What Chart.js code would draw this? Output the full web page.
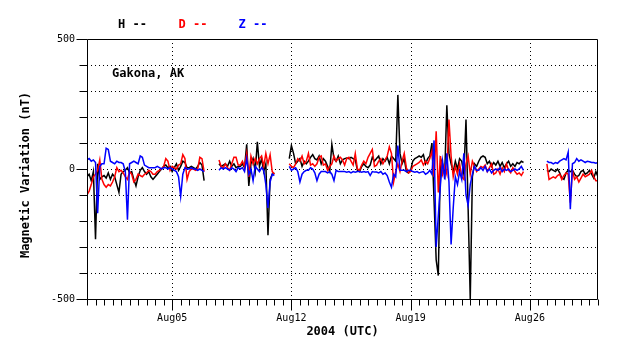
<!DOCTYPE html>
<html><head><meta charset="utf-8">
<script src="https://cdn.jsdelivr.net/npm/chart.js@4"></script>
<style>html,body{margin:0;padding:0;background:#fff}#wrap{width:638px;height:359px}</style>
</head><body><div id="wrap"><canvas id="c" width="638" height="359"></canvas></div>
<script>
// ---- data (nT), sampled every 3 hours from Jul 31 00:00 UTC (day 0) to Aug 30 00:00 (day 30) ----
const startDay = 0;
const stepDay = 0.125;
const seriesNames = ['H', 'D', 'Z'];
const seriesColors = ['#000000', '#ff0000', '#0000ff'];
const tickDays = [5, 12, 19, 26];
const tickLabels = ['Aug05', 'Aug12', 'Aug19', 'Aug26'];
const yLabelValues = [-500, 0, 500];
const stationName = 'Gakona, AK';
const N = null;

const H = [
 -30,-20,-45,-10,-270,20,-40,-30,
 -25,-35,-15,-40,-20,-30,-60,-90,
 -20,-10,-5,5,-15,-10,-40,-65,
 -30,-5,5,-10,-20,-10,-30,-40,
 -30,-20,-10,0,10,15,5,10,
 -10,5,20,-5,10,30,25,5,
 5,10,5,0,10,25,15,-45,
 N,N,N,N,N,N,20,10,
 15,20,10,30,10,20,5,10,
 10,20,5,95,-65,20,40,-10,
 105,10,40,-10,20,-255,-40,-20,
 -15,N,N,N,N,N,N,40,
 90,60,20,30,40,10,30,20,
 30,45,55,40,35,50,20,40,
 30,10,-10,95,40,30,50,20,
 35,40,42,40,45,40,35,-5,
 -10,10,20,10,5,15,45,30,
 40,50,20,40,30,45,20,50,
 40,30,285,60,20,40,-10,-15,
 -5,30,40,45,50,45,55,20,
 40,50,100,-120,-350,-410,40,20,
 -20,245,60,20,-10,30,0,40,
 30,-20,190,-150,-500,-30,20,10,
 30,45,50,45,20,30,10,25,
 15,30,10,25,5,20,30,10,
 20,10,25,20,30,25,N,N,
 N,N,N,N,N,N,N,N,
 -5,-10,0,-5,-10,0,-15,-35,
 -40,-15,-5,-10,-5,-20,-30,-25,
 -10,-5,-20,-15,-5,-20,-35,-10,
 -30
];
const D = [
 -100,-85,-60,-30,-20,-5,35,-40,
 -60,-70,-60,-65,-50,-30,5,-10,
 -5,-15,-30,-40,-10,-20,-50,-40,
 -20,-25,-30,-20,-15,-5,-10,-20,
 -20,-10,-5,0,10,40,30,-5,
 10,5,0,15,20,55,40,-40,
 -10,0,0,-5,0,45,40,-10,
 N,N,N,N,N,N,35,10,
 5,20,5,-5,20,45,45,15,
 15,30,10,60,-30,50,20,40,
 20,40,50,10,60,20,55,-10,
 -20,N,N,N,N,N,N,20,
 10,5,20,40,30,50,20,30,
 60,15,20,10,20,45,50,15,
 20,-5,10,20,50,30,40,45,
 35,15,40,45,30,15,60,0,
 -5,15,30,20,45,60,75,10,
 15,30,40,20,35,50,85,60,
 -50,-10,20,-10,30,60,5,-15,
 -10,10,15,20,25,35,15,30,
 20,40,70,-30,145,-90,50,-20,
 10,-20,190,50,-30,10,-20,20,
 -30,-40,20,50,-20,30,10,-10,
 0,10,5,15,-10,5,20,-20,
 -15,0,-20,5,-10,20,-5,-15,
 5,-10,-20,-15,-25,-10,N,N,
 N,N,N,N,N,N,N,N,
 20,-40,-35,-30,-35,-25,-20,-40,
 -25,-15,-20,-130,-5,-40,-30,-50,
 -35,-20,-30,-25,-20,-5,-30,-45,
 -45
];
const Z = [
 35,40,30,35,25,-170,10,20,
 20,80,75,30,25,20,30,25,
 25,20,-10,-195,20,25,30,25,
 20,50,45,15,10,5,5,5,
 5,10,5,0,5,5,0,5,
 0,-5,-10,-30,-105,-20,5,0,
 0,5,0,0,-5,0,-5,-10,
 N,N,N,N,N,N,-5,5,
 0,5,0,-5,5,0,-10,5,
 0,5,-10,40,-20,0,-45,10,
 0,-10,5,-5,-60,-150,-50,-20,
 -25,N,N,N,N,N,N,10,
 -5,0,5,-10,-50,-20,-10,-5,
 -5,5,0,-15,-45,-20,-10,-10,
 -10,-15,-10,-20,-45,-5,-10,-10,
 -10,-10,-12,-10,-15,-10,-12,-10,
 -10,-12,-10,-12,-10,-25,-10,-12,
 -12,-15,-10,-20,-15,-25,-50,-70,
 -20,-30,90,-5,-5,-5,-10,-5,
 -5,-10,-12,-10,-15,-12,-10,-20,
 -15,-5,-20,110,-300,-180,-60,30,
 -40,60,-50,-290,-150,-30,-60,-10,
 -40,60,-100,-140,-60,-20,10,-5,
 -5,5,-5,10,-10,0,-15,-5,
 0,-5,5,-10,0,-5,0,-10,
 -5,0,-5,0,10,-5,N,N,
 N,N,N,N,N,N,N,N,
 30,25,25,20,25,22,30,35,
 40,35,65,-155,20,25,40,30,
 35,30,25,30,28,25,25,22,
 25
];

const toPts = arr => arr.map((v, i) => ({ x: startDay + i * stepDay, y: v }));
const MONO = '"DejaVu Sans Mono", "Liberation Mono", monospace';

const halfDayTicks = [];
for (let i = 0; i <= 60; i++) halfDayTicks.push(i * 0.5);
const yTicks = [];
for (let v = -500; v <= 500; v += 100) yTicks.push(v);

const decor = {
  id: 'decor',
  beforeDatasetsDraw(chart) {
    const { ctx, chartArea: a, scales: { x, y } } = chart;
    ctx.save();
    ctx.strokeStyle = '#000';
    ctx.lineWidth = 1;
    ctx.setLineDash([1, 3]);
    ctx.beginPath();
    yTicks.forEach(v => {
      if (v <= y.min || v >= y.max) return;
      const py = Math.round(y.getPixelForValue(v)) + 0.5;
      ctx.moveTo(a.left, py); ctx.lineTo(a.right, py);
    });
    tickDays.forEach(d => {
      const px = Math.round(x.getPixelForValue(d)) + 0.5;
      ctx.moveTo(px, a.top); ctx.lineTo(px, a.bottom);
    });
    ctx.stroke();
    ctx.restore();
  },
  afterDraw(chart) {
    const { ctx, chartArea: a, scales: { x, y } } = chart;
    ctx.save();
    ctx.strokeStyle = '#000';
    ctx.lineWidth = 1;
    ctx.setLineDash([]);
    const L = Math.round(a.left) + 0.5, R = Math.round(a.right) - 0.5;
    const T = Math.round(a.top) + 0.5, B = Math.round(a.bottom) + 0.5;
    ctx.beginPath();
    ctx.moveTo(L, T); ctx.lineTo(R, T); ctx.lineTo(R, B);
    ctx.moveTo(L, T); ctx.lineTo(L, B);
    ctx.moveTo(L, B); ctx.lineTo(R, B);
    halfDayTicks.forEach(d => {
      const px = Math.round(x.getPixelForValue(d)) + 0.5;
      const len = tickDays.includes(d) ? 11 : 6;
      ctx.moveTo(px, B); ctx.lineTo(px, B + len);
    });
    yTicks.forEach(v => {
      const py = Math.round(y.getPixelForValue(v)) + 0.5;
      const len = yLabelValues.includes(v) ? 11 : 8;
      ctx.moveTo(L - len, py); ctx.lineTo(L, py);
    });
    ctx.stroke();

    ctx.font = 'bold 12px ' + MONO;
    ctx.textBaseline = 'alphabetic';
    ctx.textAlign = 'left';
    const legX = [118, 178.5, 238.5];
    seriesNames.forEach((n, i) => {
      ctx.fillStyle = seriesColors[i];
      ctx.fillText(n + ' --', legX[i], 28);
    });
    ctx.fillStyle = '#000';
    ctx.fillText(stationName, 112, 76.5);
    ctx.textAlign = 'center';
    ctx.textBaseline = 'middle';
    ctx.fillText('2004 (UTC)', (a.left + a.right) / 2, 332);
    ctx.translate(26, 175);
    ctx.rotate(-Math.PI / 2);
    ctx.fillText('Magnetic Variation (nT)', 0, 0);
    ctx.restore();
  }
};

new Chart(document.getElementById('c'), {
  type: 'line',
  data: {
    datasets: [
      { label: 'H', data: toPts(H), borderColor: seriesColors[0], order: 2 },
      { label: 'D', data: toPts(D), borderColor: seriesColors[1], order: 1 },
      { label: 'Z', data: toPts(Z), borderColor: seriesColors[2], order: 0 }
    ].map(ds => Object.assign(ds, { borderWidth: 1.5, pointRadius: 0, stepped: false, spanGaps: false, fill: false, tension: 0 }))
  },
  options: {
    responsive: false,
    animation: false,
    devicePixelRatio: 1,
    layout: { padding: { top: 39, right: 40, left: 0, bottom: 0 } },
    plugins: { legend: { display: false }, tooltip: { enabled: false }, title: { display: false } },
    scales: {
      x: {
        type: 'linear', min: 0, max: 30,
        afterBuildTicks(s) { s.ticks = tickDays.map(v => ({ value: v })); },
        afterFit(s) { s.height = 60; },
        ticks: {
          autoSkip: false, maxRotation: 0, minRotation: 0, padding: 7, color: '#000',
          font: { family: MONO, size: 10 },
          callback(v) { const i = tickDays.indexOf(v); return i >= 0 ? tickLabels[i] : ''; }
        },
        grid: { display: true, drawOnChartArea: false, drawTicks: true, tickLength: 6, color: 'rgba(0,0,0,0)', lineWidth: 1 },
        border: { display: false }
      },
      y: {
        type: 'linear', min: -500, max: 500,
        afterBuildTicks(s) { s.ticks = yLabelValues.map(v => ({ value: v })); },
        afterFit(s) { s.width = 87; },
        ticks: {
          autoSkip: false, padding: 4, color: '#000',
          font: { family: MONO, size: 10 },
          callback(v) { return String(v); }
        },
        grid: { display: true, drawOnChartArea: false, drawTicks: true, tickLength: 8, color: 'rgba(0,0,0,0)', lineWidth: 1 },
        border: { display: false }
      }
    }
  },
  plugins: [decor]
});
</script>
</body></html>
